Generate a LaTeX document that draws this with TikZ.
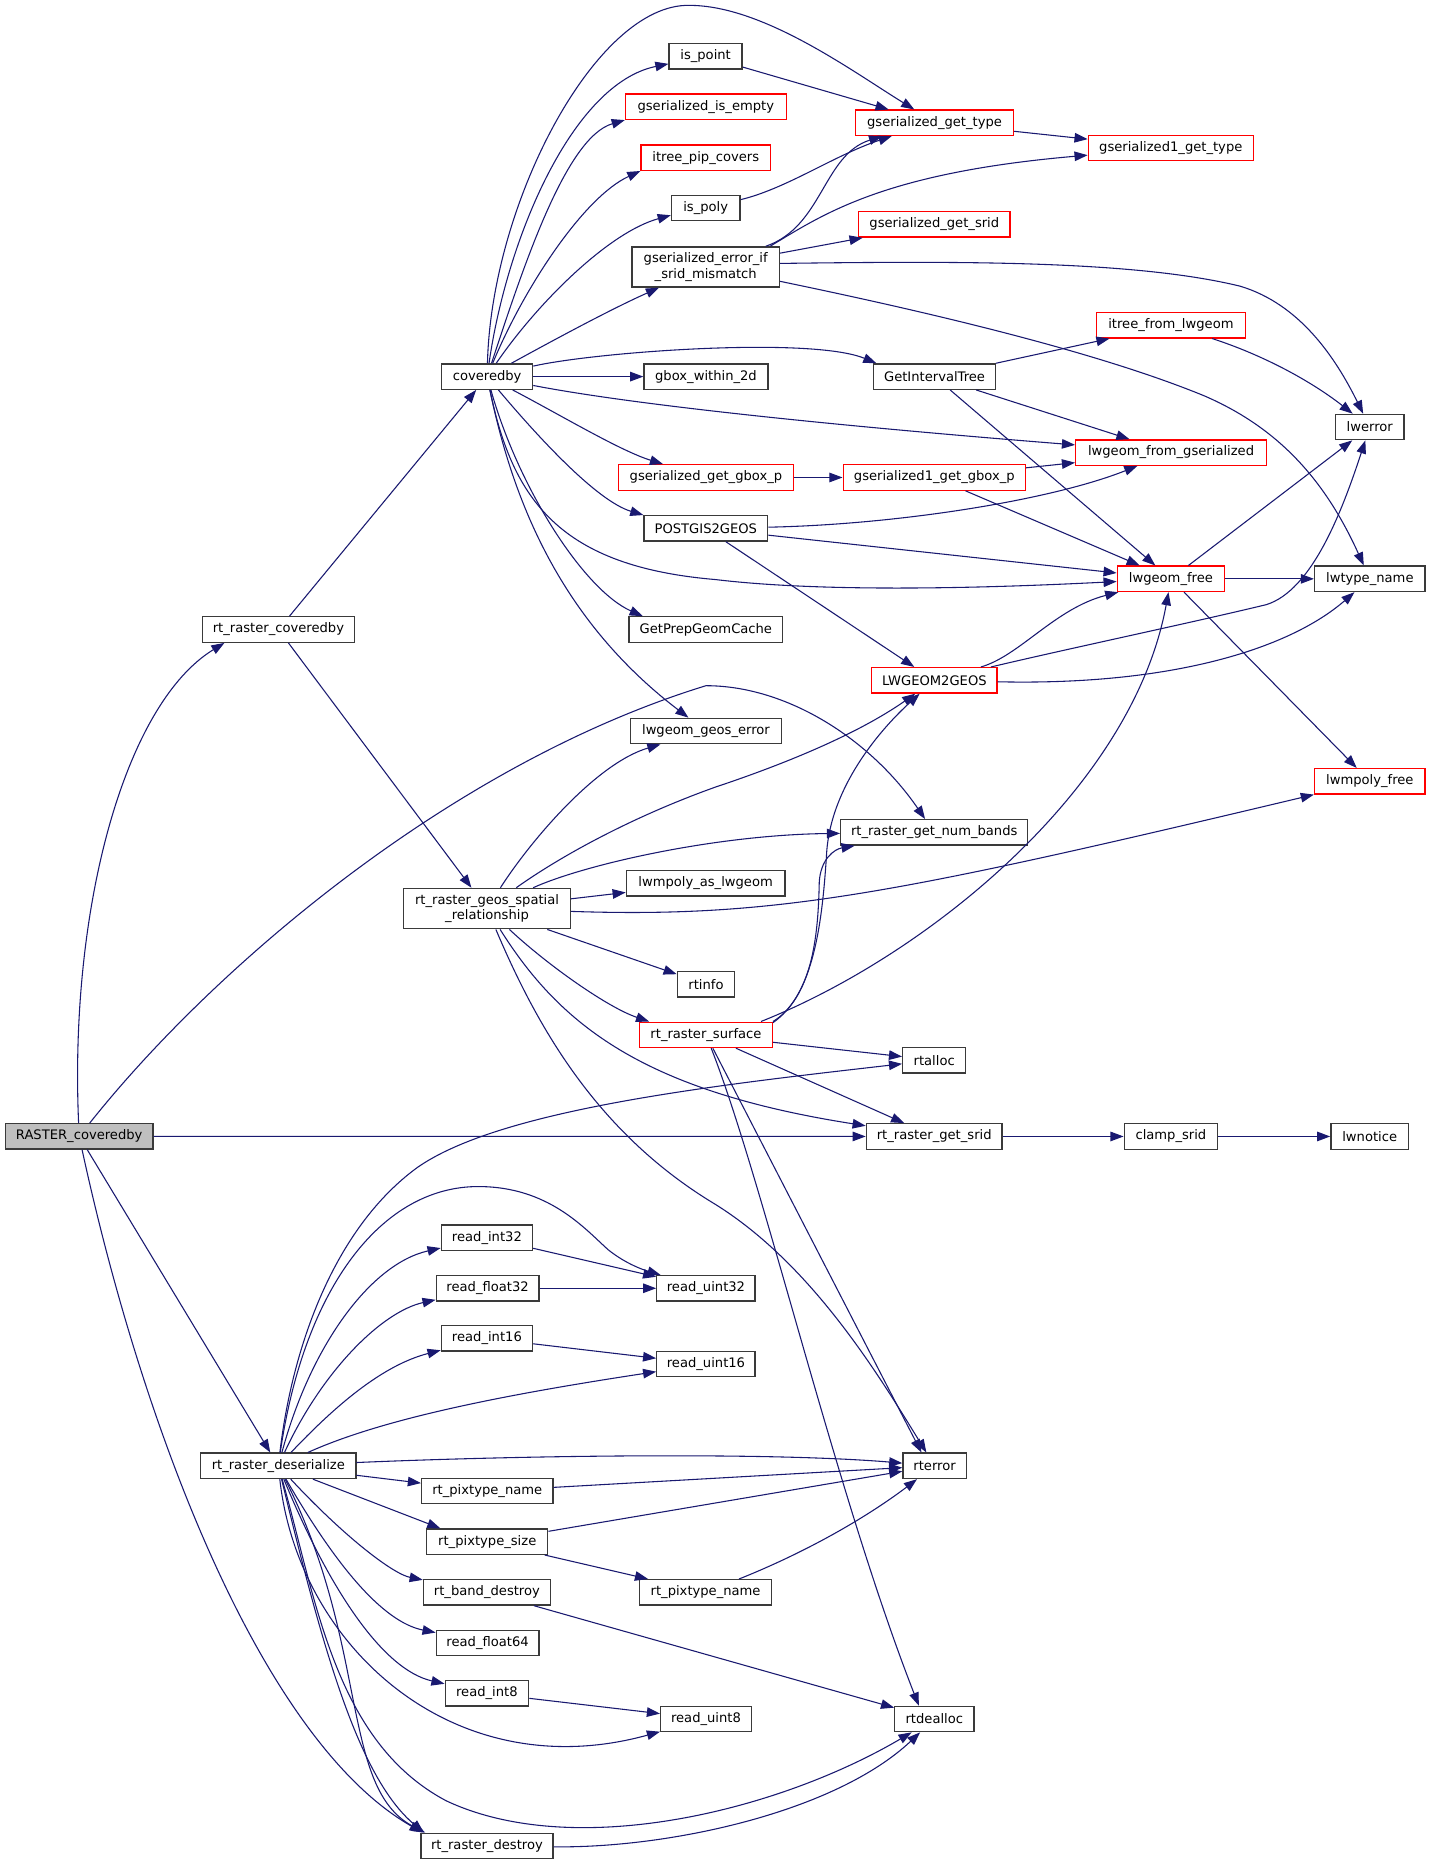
\documentclass[tikz,border=0pt]{standalone}
\usepackage{fontspec}
\setmainfont{DejaVu Sans}
\usetikzlibrary{arrows.meta}
\definecolor{edgeblue}{HTML}{191970}
\definecolor{ndborder}{HTML}{3A3A3A}
\definecolor{rootfill}{HTML}{BFBFBF}
\tikzset{
  nd/.style={draw=ndborder, line width=1.1pt, fill=white, inner sep=0pt,
    minimum height=21.3pt, font=\fontsize{11}{13}\selectfont, text=black, align=center},
  rd/.style={nd, draw=red},
  e/.style={draw=edgeblue, line width=0.9pt, -{Triangle[length=11pt,width=8pt]}},
}
\begin{document}
\begin{tikzpicture}[x=1pt,y=1pt]
\path[fill=white,use as bounding box] (0,0) rectangle (1200,-1563.1);
% column 1
\node[nd, fill=rootfill, minimum width=123.6pt] (RAS) at (66.4,-952.9) {RASTER\_coveredby};
% column 1.5
\node[nd, minimum width=127.5pt] (rtcov) at (233.5,-527.9) {rt\_raster\_coveredby};
\node[nd, minimum width=130pt] (rdes) at (233.4,-1229.2) {rt\_raster\_deserialize};
% column 2
\node[nd, minimum width=76.3pt] (cov) at (408.5,-315.8) {coveredby};
\node[nd, minimum width=139.7pt, minimum height=33.9pt] (rgeos) at (408.4,-761.9) {rt\_raster\_geos\_spatial\\\_relationship};
\node[nd, minimum width=76.5pt] (ri32) at (408.3,-1037.8) {read\_int32};
\node[nd, minimum width=86.1pt] (rf32) at (408.9,-1080.3) {read\_float32};
\node[nd, minimum width=76.5pt] (ri16) at (408.3,-1122.3) {read\_int16};
\node[nd, minimum width=110.1pt] (ptn) at (408.6,-1250.4) {rt\_pixtype\_name};
\node[nd, minimum width=101.6pt] (pts) at (408.6,-1292.8) {rt\_pixtype\_size};
\node[nd, minimum width=106.5pt] (bd) at (408.3,-1335.3) {rt\_band\_destroy};
\node[nd, minimum width=86.1pt] (rf64) at (408.9,-1377.7) {read\_float64};
\node[nd, minimum width=70pt] (ri8) at (408.3,-1420) {read\_int8};
\node[nd, minimum width=110.6pt] (rdst) at (408.3,-1547.9) {rt\_raster\_destroy};
% column 3
\node[nd, minimum width=61.2pt] (ispt) at (591.7,-47.2) {is\_point};
\node[rd, minimum width=134.8pt] (isem) at (591.9,-89.5) {gserialized\_is\_empty};
\node[rd, minimum width=108.5pt] (pip) at (591.8,-132.2) {itree\_pip\_covers};
\node[nd, minimum width=57.5pt] (ispo) at (591.8,-174.5) {is\_poly};
\node[nd, minimum width=123.5pt, minimum height=33.7pt] (gerr) at (591.8,-223.9) {gserialized\_error\_if\\\_srid\_mismatch};
\node[nd, minimum width=104pt] (gbox) at (592,-315.8) {gbox\_within\_2d};
\node[rd, minimum width=146.5pt] (ggbox) at (592,-400.4) {gserialized\_get\_gbox\_p};
\node[nd, minimum width=103.7pt] (p2g) at (591.9,-443.1) {POSTGIS2GEOS};
\node[nd, minimum width=128.7pt] (gpc) at (591.9,-527.9) {GetPrepGeomCache};
\node[nd, minimum width=126.7pt] (lge) at (592,-613) {lwgeom\_geos\_error};
\node[nd, minimum width=132.9pt] (lpal) at (591.7,-740.6) {lwmpoly\_as\_lwgeom};
\node[nd, minimum width=48pt] (rtinfo) at (592,-825.4) {rtinfo};
\node[rd, minimum width=111.2pt] (rsurf) at (592,-867.8) {rt\_raster\_surface};
\node[nd, minimum width=82.4pt] (ru32) at (592,-1080.3) {read\_uint32};
\node[nd, minimum width=82.4pt] (ru16) at (592,-1143.9) {read\_uint16};
\node[nd, minimum width=110.6pt] (ptn2) at (591.7,-1335.3) {rt\_pixtype\_name};
\node[nd, minimum width=76pt] (ru8) at (592,-1441.5) {read\_uint8};
% column 4
\node[rd, minimum width=132.1pt] (gget) at (783.7,-103) {gserialized\_get\_type};
\node[rd, minimum width=127pt] (gsrid) at (783.5,-188.2) {gserialized\_get\_srid};
\node[nd, minimum width=102.5pt] (git) at (783.7,-315.8) {GetIntervalTree};
\node[rd, minimum width=152.9pt] (g1box) at (783.5,-400.4) {gserialized1\_get\_gbox\_p};
\node[rd, minimum width=105.1pt] (l2g) at (783.5,-570.5) {LWGEOM2GEOS};
\node[nd, minimum width=156.8pt] (nb) at (783.4,-698) {rt\_raster\_get\_num\_bands};
\node[nd, minimum width=52.8pt] (ralloc) at (783.4,-889) {rtalloc};
\node[nd, minimum width=113.8pt] (gsr) at (783.4,-953) {rt\_raster\_get\_srid};
\node[nd, minimum width=53pt] (rterr) at (783.7,-1229.2) {rterror};
\node[nd, minimum width=66.3pt] (rdeal) at (783.5,-1441.5) {rtdealloc};
% column 5
\node[rd, minimum width=138.4pt] (g1type) at (981.8,-124.1) {gserialized1\_get\_type};
\node[rd, minimum width=125.1pt] (itl) at (981.9,-272.7) {itree\_from\_lwgeom};
\node[rd, minimum width=159.9pt] (lfg) at (982,-379.5) {lwgeom\_from\_gserialized};
\node[rd, minimum width=89.9pt] (lfree) at (981.9,-485.4) {lwgeom\_free};
\node[nd, minimum width=78.3pt] (clamp) at (981.9,-953) {clamp\_srid};
% column 6
\node[nd, minimum width=57.6pt] (lwerr) at (1148.6,-358.1) {lwerror};
\node[nd, minimum width=92.7pt] (ltn) at (1148.7,-485.4) {lwtype\_name};
\node[rd, minimum width=92.7pt] (lmf) at (1148.7,-655.2) {lwmpoly\_free};
\node[nd, minimum width=65.2pt] (lwn) at (1148.6,-953) {lwnotice};

% ---------- edges ----------
% RASTER_coveredby
\draw[e] (RAS) .. controls (58,-760) and (105,-590) .. ([xshift=19pt]rtcov.south west);
\draw[e] (RAS) .. controls (180,-810) and (380,-640) .. (592,-575) .. controls (660,-575) and (730,-620) .. (nb);
\draw[e] (RAS) -- (gsr);
\draw[e] (RAS) -- (rdes);
\draw[e] (RAS) .. controls (120,-1200) and (220,-1460) .. ([xshift=2pt]rdst.north west);
% rt_raster_coveredby
\draw[e] (rtcov) -- (cov);
\draw[e] (rtcov) -- (rgeos);
% coveredby
\draw[e] (cov) .. controls (412,-170) and (500,-3) .. (578,-4.5) .. controls (640,-4.5) and (715,-60) .. ([xshift=-17pt]gget.north);
\draw[e] (cov) .. controls (425,-200) and (480,-70) .. (ispt);
\draw[e] (cov) .. controls (440,-220) and (475,-115) .. (isem.south west);
\draw[e] (cov) .. controls (440,-240) and (490,-165) .. (pip.south west);
\draw[e] (cov) .. controls (450,-255) and (510,-195) .. ([yshift=-6pt]ispo.west);
\draw[e] (cov) .. controls (470,-282) and (515,-258) .. (gerr);
\draw[e] (cov) .. controls (500,-295) and (680,-282) .. ([xshift=3pt]git.north west);
\draw[e] (cov) -- (gbox);
\draw[e] (cov) .. controls (560,-345) and (800,-365) .. (lfg);
\draw[e] (cov) .. controls (470,-348) and (520,-378) .. (ggbox);
\draw[e] (cov) .. controls (450,-365) and (500,-420) .. (p2g.north west);
\draw[e] (cov) .. controls (430,-420) and (470,-475) .. (600,-486) .. controls (700,-498) and (850,-492) .. (lfree);
\draw[e] (cov) .. controls (435,-410) and (490,-495) .. ([xshift=12pt]gpc.north west);
\draw[e] (cov) .. controls (430,-420) and (470,-520) .. (lge);
% is_point, is_poly, gserialized_error_if_srid_mismatch
\draw[e] (ispt) -- (gget);
\draw[e] (ispo) .. controls (660,-158) and (700,-130) .. ([xshift=-36pt]gget.south);
\draw[e] (gerr) .. controls (690,-190) and (690,-130) .. ([xshift=-44pt]gget.south);
\draw[e] ([xshift=54pt]gerr.north) .. controls (690,-180) and (740,-145) .. (g1type);
\draw[e] (gerr) -- (gsrid);
\draw[e] ([yshift=3pt]gerr.east) .. controls (800,-219) and (950,-218) .. (1040,-240) .. controls (1090,-255) and (1120,-300) .. (lwerr);
\draw[e] ([yshift=-12pt]gerr.east) .. controls (780,-262) and (920,-295) .. (1010,-332) .. controls (1070,-358) and (1110,-400) .. (ltn);
\draw[e] (gget) -- (g1type);
% GetIntervalTree etc.
\draw[e] (git) -- (itl);
\draw[e] (itl) .. controls (1060,-298) and (1100,-320) .. (lwerr);
\draw[e] (git) -- (lfg);
\draw[e] (git) -- (lfree);
\draw[e] (ggbox) -- (g1box);
\draw[e] (g1box) -- (lfg);
\draw[e] (g1box) -- (lfree);
\draw[e] (p2g) .. controls (750,-440) and (880,-420) .. (lfg);
\draw[e] (p2g) -- (lfree);
\draw[e] (p2g) -- (l2g);
% LWGEOM2GEOS
\draw[e] (l2g) .. controls (855,-550) and (885,-510) .. (lfree);
\draw[e] (l2g) .. controls (900,-543) and (1000,-522) .. (1062,-507) .. controls (1100,-495) and (1125,-430) .. (lwerr);
\draw[e] (l2g) .. controls (980,-575) and (1080,-545) .. (ltn);
% lwgeom_free
\draw[e] (lfree) -- (lwerr);
\draw[e] (lfree) -- (ltn);
\draw[e] (lfree) -- (lmf);
% rt_raster_surface
\draw[e] ([xshift=-10pt]rsurf.north east) .. controls (780,-800) and (950,-660) .. (lfree);
\draw[e] (rsurf.north east) .. controls (685,-835) and (690,-760) .. (693,-719) .. controls (695,-660) and (740,-610) .. (l2g);
\draw[e] ([yshift=-1pt]rsurf.north east) .. controls (680,-835) and (686,-790) .. (687,-740) .. controls (688,-720) and (700,-712) .. (nb);
\draw[e] (rsurf) -- (ralloc);
\draw[e] (rsurf) -- (gsr);
\draw[e] (rsurf) -- ([xshift=-11pt]rterr.north);
\draw[e] (rsurf) .. controls (640,-990) and (700,-1250) .. ([xshift=-13pt]rdeal.north);
% rt_raster_geos_spatial_relationship
\draw[e] (rgeos) .. controls (445,-705) and (500,-640) .. (lge);
\draw[e] (rgeos) .. controls (470,-718) and (530,-685) .. (600,-660) .. controls (660,-640) and (720,-615) .. (l2g);
\draw[e] (rgeos) .. controls (490,-725) and (600,-700) .. (nb);
\draw[e] (rgeos) -- (lpal);
\draw[e] (rgeos) .. controls (650,-770) and (750,-750) .. (lmf);
\draw[e] (rgeos) -- (rtinfo);
\draw[e] (rgeos) .. controls (460,-810) and (510,-845) .. ([xshift=8.5pt]rsurf.north west);
\draw[e] (rgeos) .. controls (470,-860) and (540,-915) .. (gsr);
\draw[e] (rgeos) .. controls (450,-860) and (500,-950) .. (600,-1010) .. controls (680,-1060) and (735,-1150) .. (rterr);
% rt_raster_get_srid chain
\draw[e] (gsr) -- (clamp);
\draw[e] (clamp) -- (lwn);
% rt_raster_deserialize
\draw[e] (rdes) .. controls (245,-1130) and (280,-1030) .. (350,-979) .. controls (420,-930) and (600,-910) .. (ralloc);
\draw[e] (rdes) .. controls (255,-1080) and (320,-995) .. (401,-995) .. controls (460,-995) and (490,-1030) .. (510,-1048) .. controls (525,-1060) and (540,-1065) .. (ru32);
\draw[e] (rdes) .. controls (260,-1130) and (310,-1060) .. (ri32);
\draw[e] (rdes) .. controls (270,-1150) and (320,-1100) .. (rf32);
\draw[e] (rdes) .. controls (280,-1180) and (320,-1145) .. (ri16);
\draw[e] (rdes) .. controls (320,-1190) and (420,-1170) .. (ru16);
\draw[e] (rdes) .. controls (450,-1220) and (650,-1218) .. (rterr);
\draw[e] (rdes) -- (ptn);
\draw[e] (rdes) -- ([xshift=12pt]pts.north west);
\draw[e] (rdes) .. controls (290,-1290) and (330,-1320) .. (bd);
\draw[e] (rdes) .. controls (280,-1310) and (320,-1360) .. (rf64);
\draw[e] (rdes) .. controls (275,-1330) and (320,-1400) .. (ri8);
\draw[e] (rdes) .. controls (250,-1380) and (380,-1500) .. (ru8);
\draw[e] (rdes) .. controls (265,-1340) and (280,-1460) .. (374,-1510) .. controls (480,-1560) and (650,-1520) .. (rdeal);
\draw[e] (rdes) .. controls (270,-1380) and (300,-1490) .. ([xshift=3pt]rdst.north west);
\draw[e] (rdes) .. controls (310,-1380) and (285,-1500) .. ([xshift=4pt]rdst.north west);
% read_* and rt_pixtype
\draw[e] (ri32) -- (ru32);
\draw[e] (rf32) -- (ru32);
\draw[e] (ri16) -- (ru16);
\draw[e] (ri8) -- (ru8);
\draw[e] (ptn) -- (rterr);
\draw[e] (pts) -- (rterr);
\draw[e] (pts) -- (ptn2);
\draw[e] (ptn2) .. controls (680,-1300) and (730,-1270) .. (rterr);
\draw[e] (bd) -- (rdeal);
\draw[e] (rdst) .. controls (560,-1550) and (700,-1520) .. (rdeal);
\end{tikzpicture}
\end{document}
